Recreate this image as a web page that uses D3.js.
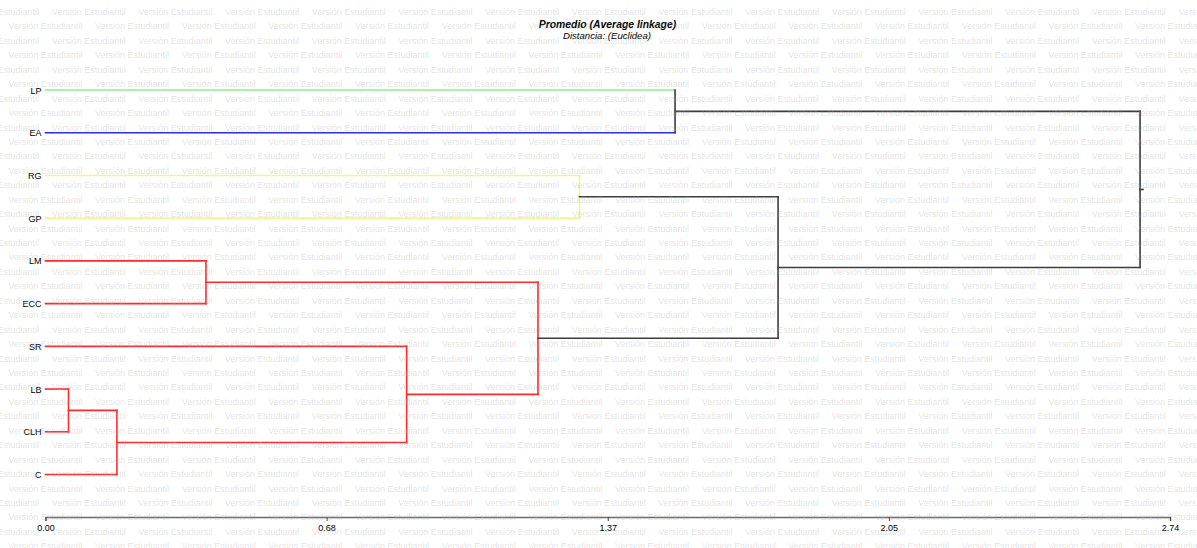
<!DOCTYPE html>
<html>
<head>
<meta charset="utf-8">
<script src="https://cdn.jsdelivr.net/npm/d3@7"></script>
<style>
  html, body { margin: 0; padding: 0; background: #fff; }
  svg { display: block; font-family: "Liberation Sans", Arial, sans-serif; }
</style>
</head>
<body>
<svg id="chart" width="1197" height="548"></svg>
<script>
// Leaves of the dendrogram, top to bottom
const leaves = ["LP", "EA", "RG", "GP", "LM", "ECC", "SR", "LB", "CLH", "C"];

// Agglomeration steps: node ids 0..9 are leaves, merge k creates node 10 + k
const mergeLeft   = [7, 10, 4, 6, 12, 2, 0, 15, 16];
const mergeRight  = [8, 9, 5, 11, 13, 3, 1, 14, 17];
const mergeHeight = [0.056, 0.174, 0.391, 0.880, 1.200, 1.301, 1.534, 1.785, 2.667];

// Cluster membership of each leaf and the colour of each cluster
const leafGroup   = [0, 1, 2, 2, 3, 3, 3, 3, 3, 3];
const groupColors = ["#8cee8c", "#2b2bff", "#f4f48c", "#ff2b2b"];

// Distance axis
const axisTicks  = [0, 0.685, 1.37, 2.055, 2.74];
const tickLabels = ["0.00", "0.68", "1.37", "2.05", "2.74"];

const titleText    = "Promedio (Average linkage)";
const subtitleText = "Distancia: (Euclidea)";
const stampText    = "Versión Estudiantil";

const svg = d3.select("#chart");
const W = 1197, H = 548;
const dark = "#3c3c3c";

const x = d3.scaleLinear().domain([0, 2.74]).range([45.5, 1170]);
const y = d3.scalePoint().domain(leaves).range([90, 474.5]);

// Node positions and groups
const nodeY = leaves.map(d => y(d));
const nodeH = leaves.map(() => 0);
const nodeG = leafGroup.slice();
mergeHeight.forEach((h, k) => {
  const l = mergeLeft[k], r = mergeRight[k];
  nodeY.push((nodeY[l] + nodeY[r]) / 2);
  nodeH.push(h);
  nodeG.push(nodeG[l] === nodeG[r] ? nodeG[l] : -1);
});

const segs = [];
mergeHeight.forEach((h, k) => {
  const id = leaves.length + k;
  const l = mergeLeft[k], r = mergeRight[k];
  const g = nodeG[id];
  const vColor = g >= 0 ? groupColors[g] : dark;
  [l, r].forEach(c => {
    let col;
    if (c < leaves.length) col = groupColors[nodeG[c]];
    else col = g >= 0 ? groupColors[g] : dark;
    segs.push({x1: x(nodeH[c]), x2: x(h), y1: nodeY[c], y2: nodeY[c], color: col});
  });
  segs.push({x1: x(h), x2: x(h), y1: nodeY[l], y2: nodeY[r], color: vColor});
});
// short stub at the root
const rootId = nodeY.length - 1;
segs.push({x1: x(nodeH[rootId]), x2: x(nodeH[rootId]) + 3, y1: nodeY[rootId], y2: nodeY[rootId], color: dark});

svg.append("g").selectAll("line")
  .data(segs)
  .join("line")
  .attr("x1", d => d.x1).attr("x2", d => d.x2)
  .attr("y1", d => d.y1).attr("y2", d => d.y2)
  .attr("stroke", d => d.color)
  .attr("stroke-width", 1.6)
  .attr("stroke-linecap", "square");

// Leaf labels
svg.append("g").selectAll("text")
  .data(leaves)
  .join("text")
  .attr("x", 41.5)
  .attr("y", d => y(d) + 3.5)
  .attr("text-anchor", "end")
  .attr("font-size", 9)
  .attr("fill", "#000")
  .text(d => d);

// Distance axis
const axis = d3.axisBottom(x)
  .tickValues(axisTicks)
  .tickFormat((d, i) => tickLabels[i])
  .tickSizeOuter(0)
  .tickSize(4)
  .tickPadding(4);
const ag = svg.append("g").attr("transform", "translate(0,517)").call(axis);
ag.select(".domain").attr("stroke", "#6a6a6a").attr("stroke-width", 1.5);
ag.selectAll(".tick line").attr("stroke", "#444");
ag.selectAll(".tick text").attr("font-size", 9).attr("fill", "#000")
  .attr("font-family", "'Liberation Sans', Arial, sans-serif");

// Titles
svg.append("text")
  .attr("x", 607.5).attr("y", 28)
  .attr("text-anchor", "middle")
  .attr("font-size", 10.4)
  .attr("font-weight", "bold")
  .attr("font-style", "italic")
  .text(titleText);
svg.append("text")
  .attr("x", 607).attr("y", 38.5)
  .attr("text-anchor", "middle")
  .attr("font-size", 9.6)
  .attr("font-style", "italic")
  .text(subtitleText);

// Repeating stamp over the whole canvas
const stamp = svg.append("g")
  .attr("fill", "#a8a8a8")
  .attr("fill-opacity", 0.33)
  .attr("font-size", 9)
  .attr("pointer-events", "none");
const rowStep = 14.44, colStep = 86.67;
for (let i = 0; i * rowStep < H + 10; i++) {
  const cy = 11.7 + i * rowStep;
  const start = (i % 2 === 0) ? -35 : 8.3;
  for (let sx = start; sx < W; sx += colStep) {
    stamp.append("text")
      .attr("x", sx)
      .attr("y", cy + 3.3)
      .text(stampText);
  }
}
</script>
</body>
</html>
